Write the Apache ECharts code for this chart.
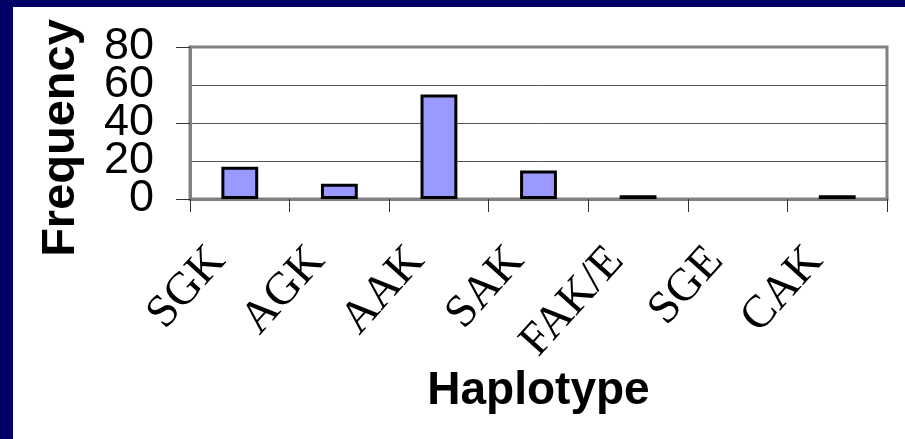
<!DOCTYPE html>
<html>
<head>
<meta charset="utf-8">
<script src="https://cdn.jsdelivr.net/npm/echarts@6/dist/echarts.min.js"></script>
<style>
  html, body { margin: 0; padding: 0; width: 905px; height: 439px; background: #000066; overflow: hidden; }
  #chart { position: absolute; left: 13px; top: 7px; width: 892px; height: 432px; background: #ffffff; }
</style>
</head>
<body>
<div id="chart"></div>
<script>
const categories = ['SGK', 'AGK', 'AAK', 'SAK', 'FAK/E', 'SGE', 'CAK'];
const frequencies = [17, 8, 55, 15, 2, 0, 2];
const yMin = 0, yMax = 80, yStep = 20;
const xTitle = 'Haplotype';
const yTitle = 'Frequency';

const chart = echarts.init(document.getElementById('chart'), null, { renderer: 'canvas' });

const seriesData = frequencies.map(v => v === 0 ? { value: v, itemStyle: { borderWidth: 0 } } : v);

const yLabelStyle = { margin: 36, fontFamily: 'Liberation Sans', fontSize: 45, color: '#000000' };

chart.setOption({
  animation: false,
  backgroundColor: '#ffffff',
  grid: {
    left: 177, right: 18, top: 40, bottom: 240,
    show: true, borderColor: '#808080', borderWidth: 3, backgroundColor: 'transparent'
  },
  xAxis: {
    type: 'category',
    data: categories,
    boundaryGap: true,
    axisLine: { show: true, lineStyle: { color: '#808080', width: 3 } },
    axisTick: { show: true, interval: 0, alignWithLabel: false, length: 13, lineStyle: { color: '#333333', width: 1 } },
    axisLabel: {
      interval: 0, rotate: 48, margin: 30,
      fontFamily: 'Liberation Serif', fontSize: 46, color: '#000000',
      padding: [0, 33, 0, 0],
      hideOverlap: false
    },
    splitLine: { show: false },
    name: xTitle,
    nameLocation: 'middle',
    nameGap: 169,
    nameMoveOverlap: false,
    nameTextStyle: { fontFamily: 'Liberation Sans', fontWeight: 'bold', fontSize: 46, color: '#000000' }
  },
  yAxis: [{
    type: 'value',
    min: yMin, max: yMax, interval: yStep,
    axisLine: { show: true, lineStyle: { color: '#808080', width: 3 } },
    axisTick: { show: true, length: 14, lineStyle: { color: '#333333', width: 1 } },
    axisLabel: Object.assign({ showMinLabel: true, showMaxLabel: true }, yLabelStyle),
    splitLine: { show: true, showMinLine: false, showMaxLine: false, lineStyle: { color: '#555555', width: 1 } },
    name: yTitle,
    nameLocation: 'middle',
    nameRotate: 90,
    nameGap: 105,
    nameMoveOverlap: false,
    nameTextStyle: { fontFamily: 'Liberation Sans', fontWeight: 'bold', fontSize: 47, color: '#000000', padding: [0, 30, 0, 0] }
  }, {
    type: 'value',
    position: 'left',
    min: yMin, max: yMax, interval: yStep,
    axisLine: { show: false },
    axisTick: { show: false },
    splitLine: { show: false },
    axisLabel: Object.assign({ showMinLabel: false, showMaxLabel: false,
      formatter: v => (v % (2 * yStep) === 0 ? '' : String(v)) }, yLabelStyle)
  }],
  series: [{
    type: 'bar',
    data: seriesData,
    barWidth: '37%',
    itemStyle: { color: '#9999FF', borderColor: '#000000', borderWidth: 3 }
  }]
});
</script>
</body>
</html>
